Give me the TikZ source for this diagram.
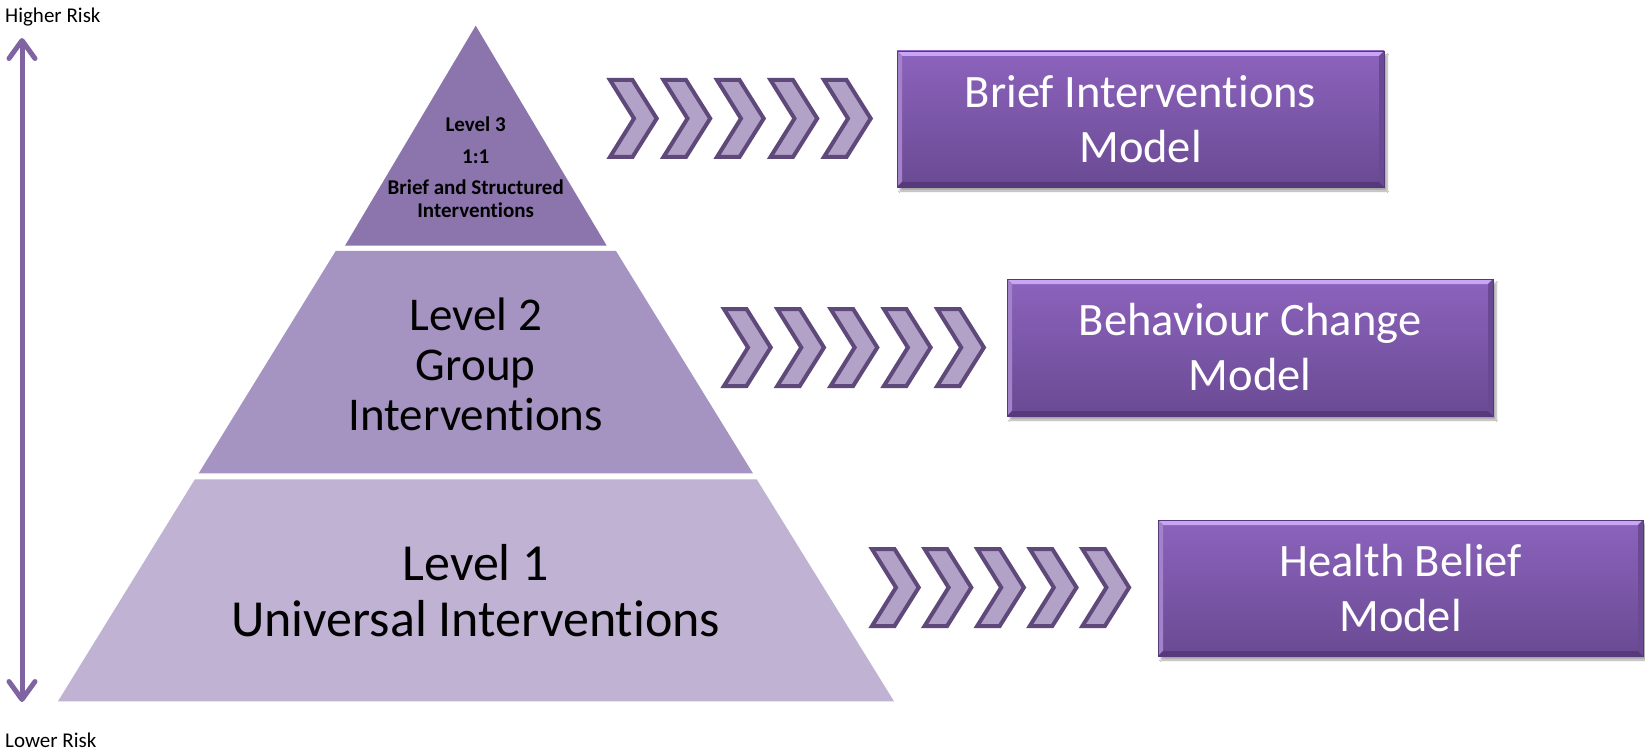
\documentclass[tikz,border=0pt]{standalone}
\usepackage{fontspec}
\setmainfont[Ligatures={NoCommon}]{Carlito}
\usetikzlibrary{arrows.meta,shadows.blur}
\definecolor{tierA}{HTML}{8C74AC}
\definecolor{tierB}{HTML}{A593C1}
\definecolor{tierC}{HTML}{BFB2D3}
\definecolor{riskarrow}{HTML}{8064A2}
\definecolor{chevfill}{HTML}{B3A2C7}
\definecolor{chevline}{HTML}{5F497A}
\definecolor{boxtop}{HTML}{8C63BD}
\definecolor{boxbot}{HTML}{6A4A93}
\definecolor{boxlight}{HTML}{C9A6F3}
\definecolor{boxedge}{HTML}{55397A}
\tikzset{
  chevstyle/.style={draw=chevline, fill=chevfill, line width=4pt, line join=miter},
  chev/.pic={\draw[chevstyle] (2,2) -- (24.5,2) -- (48.7,40.5) -- (24.5,79) -- (2,79) -- (26,40.5) -- cycle;},
  modelbox/.style={rectangle, inner sep=0pt, outer sep=0pt, top color=boxtop, bottom color=boxbot,
    draw=boxedge, line width=0.8pt, text=white, align=center,
    font=\fontsize{46.5}{55}\selectfont,
    blur shadow={shadow xshift=3pt, shadow yshift=-4pt, shadow opacity=35, shadow blur steps=6},
    path picture={
      \fill[boxlight] (path picture bounding box.north west) -- (path picture bounding box.north east)
        -- ([xshift=-5pt,yshift=-5pt]path picture bounding box.north east)
        -- ([xshift=5pt,yshift=-5pt]path picture bounding box.north west) -- cycle;
      \fill[boxtop!80!white] (path picture bounding box.north west) -- ([xshift=5pt,yshift=-5pt]path picture bounding box.north west)
        -- ([xshift=5pt,yshift=5pt]path picture bounding box.south west) -- (path picture bounding box.south west) -- cycle;
      \fill[boxedge] (path picture bounding box.south west) -- (path picture bounding box.south east)
        -- ([xshift=-5pt,yshift=5pt]path picture bounding box.south east)
        -- ([xshift=5pt,yshift=5pt]path picture bounding box.south west) -- cycle;
      \fill[boxbot] (path picture bounding box.north east) -- ([xshift=-5pt,yshift=-5pt]path picture bounding box.north east)
        -- ([xshift=-5pt,yshift=5pt]path picture bounding box.south east) -- (path picture bounding box.south east) -- cycle;
    }},
  tiertext/.style={align=center, inner sep=0pt, text=black},
  risktext/.style={anchor=west, inner sep=0pt, font=\fontsize{21}{25}\selectfont}
}
\begin{document}
\begin{tikzpicture}[x=1pt,y=-1pt]
\useasboundingbox[fill=white] (0,0) rectangle (1645,751);

% pyramid tiers
\fill[tierA] (475.7,25.7) -- (606.7,245.7) -- (345,245.7) -- cycle;
\fill[tierB] (335.7,251) -- (616,251) -- (752.9,473.3) -- (198.7,473.3) -- cycle;
\fill[tierC] (194.9,479.3) -- (756.7,479.3) -- (894,701.3) -- (58,701.3) -- cycle;

\node[tiertext, font=\bfseries\fontsize{21}{23}\selectfont] (t3) at (475.7,167)
  {Level 3\\[9pt]1:1\\[8pt]Brief and Structured\\Interventions};
\node[tiertext, font=\fontsize{47}{50}\selectfont] (t2) at (475.7,364.5)
  {Level 2\\Group\\Interventions};
\node[tiertext, font=\fontsize{52}{56}\selectfont] (t1) at (475.7,591)
  {Level 1\\Universal Interventions};

% chevrons
\foreach \i in {0,...,4} {
  \pic at ({608+\i*53.5},78) {chev};
  \pic at ({722+\i*53.3},307) {chev};
  \pic at ({870+\i*52.6},547) {chev};
}

% model boxes
\node[modelbox, minimum width=487pt, minimum height=136pt] (m1) at (1140.5,119)
  {Brief Interventions\\Model};
\node[modelbox, minimum width=486pt, minimum height=137pt] (m2) at (1250,347.5)
  {Behaviour Change\\Model};
\node[modelbox, minimum width=485pt, minimum height=136pt] (m3) at (1400.5,588)
  {Health Belief\\Model};

% risk axis
\node[risktext] (hr) at (5,17) {Higher Risk};
\node[risktext] (lr) at (5,740) {Lower Risk};
\coordinate (atop) at (22,38);
\coordinate (abot) at (22,702);
\draw[riskarrow, line width=5pt, line cap=round,
  {Straight Barb[length=18pt,width=26pt,round]}-{Straight Barb[length=18pt,width=26pt,round]}]
  (atop) -- (abot);
\end{tikzpicture}
\end{document}
